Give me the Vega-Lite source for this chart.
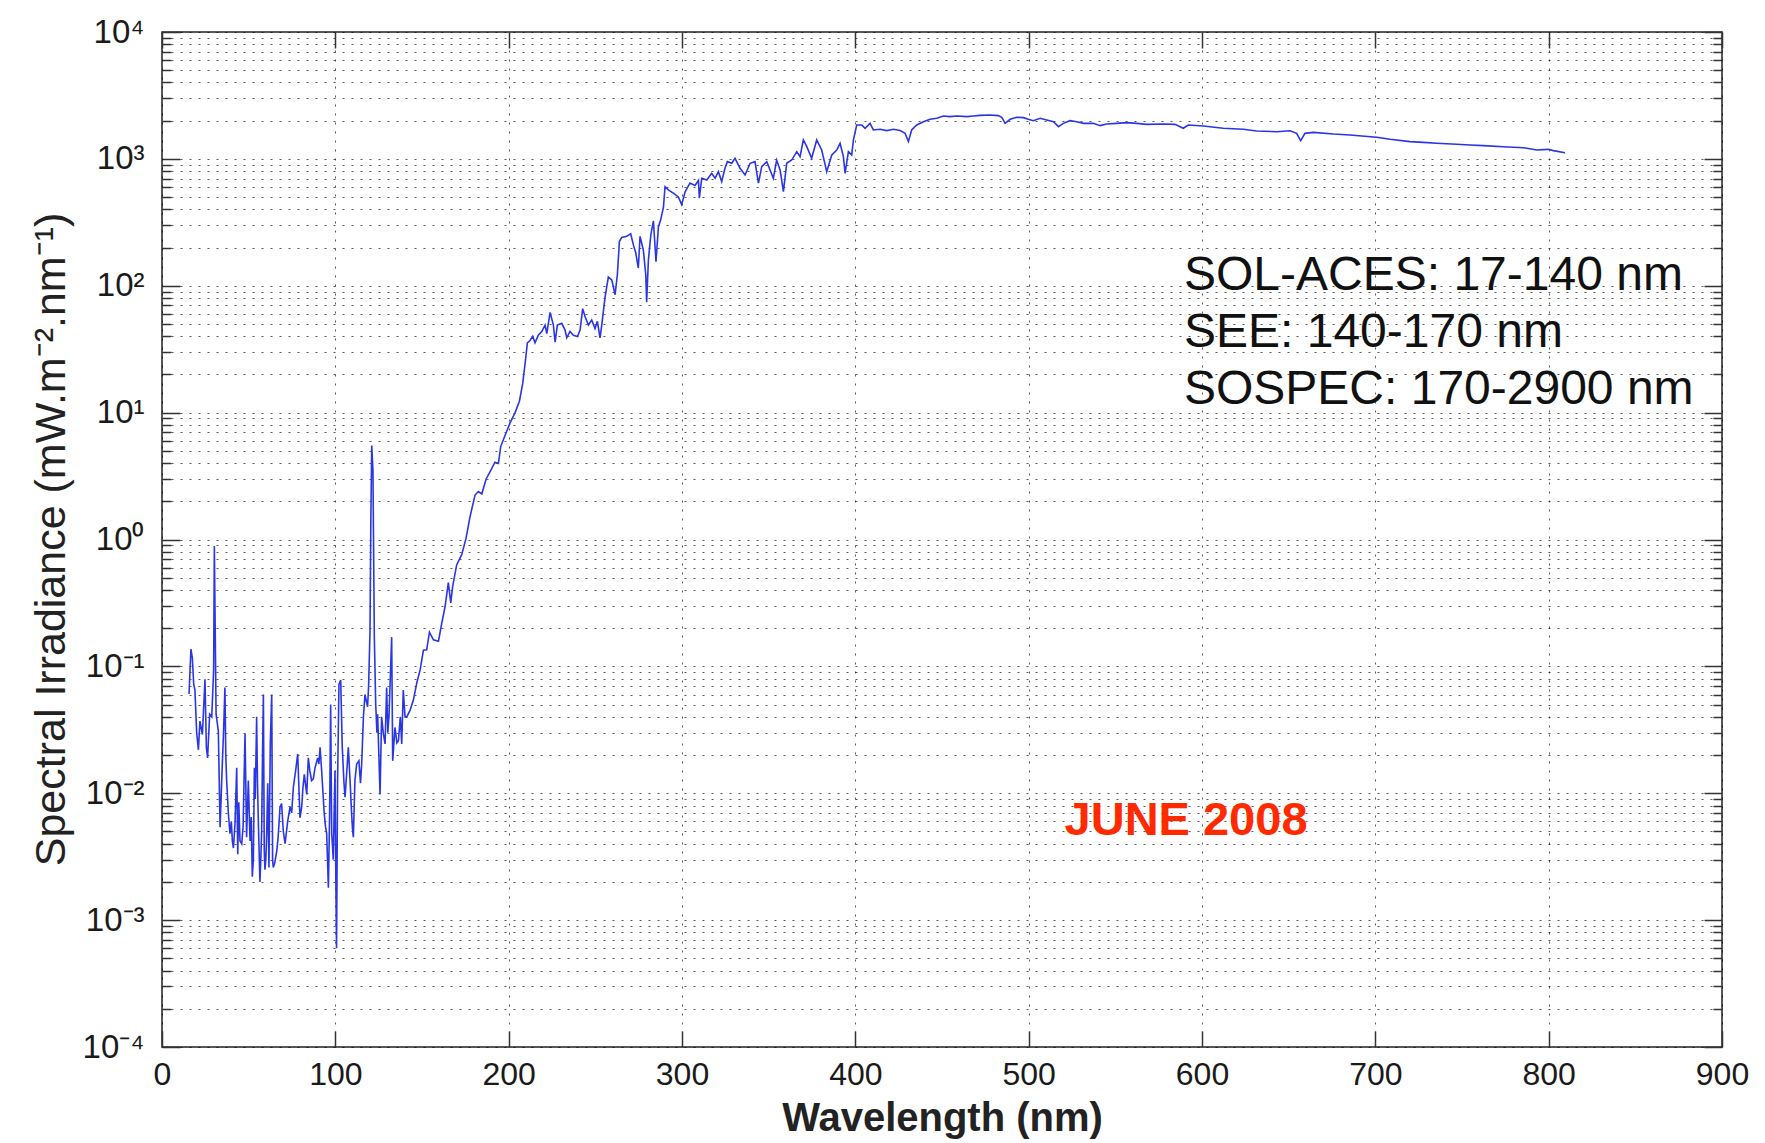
{
  "$schema": "https://vega.github.io/schema/vega-lite/v6.json",
  "width": 1560,
  "height": 1015,
  "autosize": {"type": "none"},
  "padding": {"left": 162, "top": 32, "right": 43, "bottom": 96},
  "background": "white",
  "config": {
    "font": "Liberation Sans",
    "view": {"stroke": "#222", "strokeWidth": 1.5}
  },
  "datasets": {
    "spectrum": [
      {"nm":15.6,"irr":0.0605},{"nm":16.7,"irr":0.137},{"nm":17.5,"irr":0.117},{"nm":18.3,"irr":0.072},{"nm":19.0,"irr":0.065},
      {"nm":20.0,"irr":0.030},{"nm":21.0,"irr":0.022},{"nm":21.9,"irr":0.037},{"nm":23.3,"irr":0.029},{"nm":24.8,"irr":0.079},
      {"nm":25.6,"irr":0.023},{"nm":26.3,"irr":0.019},{"nm":27.5,"irr":0.042},{"nm":28.7,"irr":0.040},{"nm":29.8,"irr":0.094},
      {"nm":30.2,"irr":0.89},{"nm":30.6,"irr":0.26},{"nm":31.2,"irr":0.042},{"nm":32.5,"irr":0.031},{"nm":33.5,"irr":0.0054},
      {"nm":34.8,"irr":0.017},{"nm":35.5,"irr":0.030},{"nm":36.3,"irr":0.068},{"nm":36.8,"irr":0.020},{"nm":37.3,"irr":0.0126},
      {"nm":38.3,"irr":0.0069},{"nm":39.2,"irr":0.0048},{"nm":40.0,"irr":0.0060},{"nm":40.6,"irr":0.0042},{"nm":41.2,"irr":0.0037},
      {"nm":42.1,"irr":0.0057},{"nm":43.1,"irr":0.0159},{"nm":43.7,"irr":0.0033},{"nm":44.3,"irr":0.0085},{"nm":45.0,"irr":0.0042},
      {"nm":46.0,"irr":0.0040},{"nm":46.8,"irr":0.0055},{"nm":47.3,"irr":0.012},{"nm":47.9,"irr":0.0295},{"nm":48.8,"irr":0.0045},
      {"nm":49.8,"irr":0.0126},{"nm":50.8,"irr":0.0042},{"nm":51.5,"irr":0.0065},{"nm":52.1,"irr":0.0022},{"nm":52.7,"irr":0.0030},
      {"nm":53.3,"irr":0.0159},{"nm":53.8,"irr":0.0090},{"nm":54.6,"irr":0.040},{"nm":55.1,"irr":0.012},{"nm":55.6,"irr":0.0058},
      {"nm":56.5,"irr":0.0020},{"nm":57.0,"irr":0.0030},{"nm":57.5,"irr":0.0051},{"nm":58.0,"irr":0.020},{"nm":58.5,"irr":0.060},
      {"nm":59.0,"irr":0.0035},{"nm":59.4,"irr":0.0025},{"nm":59.9,"irr":0.0030},{"nm":60.4,"irr":0.0048},{"nm":61.0,"irr":0.012},
      {"nm":61.7,"irr":0.0026},{"nm":62.5,"irr":0.025},{"nm":63.3,"irr":0.060},{"nm":63.8,"irr":0.0030},{"nm":64.2,"irr":0.0026},
      {"nm":65.0,"irr":0.0028},{"nm":66.2,"irr":0.0035},{"nm":67.0,"irr":0.0045},{"nm":68.1,"irr":0.0078},{"nm":69.0,"irr":0.0083},
      {"nm":70.0,"irr":0.0050},{"nm":71.0,"irr":0.0040},{"nm":72.5,"irr":0.0060},{"nm":73.9,"irr":0.0078},{"nm":74.8,"irr":0.0070},
      {"nm":75.8,"irr":0.0112},{"nm":77.1,"irr":0.0151},{"nm":78.3,"irr":0.0204},{"nm":79.6,"irr":0.0064},{"nm":80.6,"irr":0.0078},
      {"nm":81.3,"irr":0.011},{"nm":82.1,"irr":0.0141},{"nm":83.5,"irr":0.0098},{"nm":84.4,"irr":0.019},{"nm":85.3,"irr":0.015},
      {"nm":86.3,"irr":0.0126},{"nm":87.3,"irr":0.013},{"nm":88.3,"irr":0.0159},{"nm":89.8,"irr":0.019},{"nm":90.5,"irr":0.017},
      {"nm":91.2,"irr":0.023},{"nm":92.1,"irr":0.0151},{"nm":93.6,"irr":0.0069},{"nm":94.3,"irr":0.0055},{"nm":95.0,"irr":0.0048},
      {"nm":96.0,"irr":0.0018},{"nm":96.7,"irr":0.0069},{"nm":97.3,"irr":0.050},{"nm":97.9,"irr":0.0048},{"nm":98.3,"irr":0.0040},
      {"nm":98.8,"irr":0.0030},{"nm":99.8,"irr":0.0151},{"nm":100.3,"irr":0.0020},{"nm":100.7,"irr":0.0006},{"nm":101.3,"irr":0.0126},
      {"nm":102.1,"irr":0.072},{"nm":103.1,"irr":0.078},{"nm":104.0,"irr":0.023},{"nm":105.0,"irr":0.012},{"nm":105.6,"irr":0.0093},
      {"nm":106.5,"irr":0.0141},{"nm":107.5,"irr":0.023},{"nm":108.5,"irr":0.0126},{"nm":109.4,"irr":0.0069},{"nm":110.0,"irr":0.0050},
      {"nm":110.4,"irr":0.0045},{"nm":111.3,"irr":0.0126},{"nm":112.3,"irr":0.017},{"nm":113.6,"irr":0.018},{"nm":114.5,"irr":0.012},
      {"nm":115.2,"irr":0.017},{"nm":116.2,"irr":0.040},{"nm":117.1,"irr":0.060},{"nm":118.6,"irr":0.048},{"nm":119.2,"irr":0.070},
      {"nm":120.0,"irr":0.19},{"nm":120.5,"irr":1.5},{"nm":121.0,"irr":5.5},{"nm":121.7,"irr":3.5},{"nm":122.5,"irr":0.17},
      {"nm":123.3,"irr":0.050},{"nm":124.0,"irr":0.030},{"nm":124.4,"irr":0.042},{"nm":125.8,"irr":0.0098},{"nm":126.7,"irr":0.040},
      {"nm":127.7,"irr":0.0295},{"nm":128.7,"irr":0.0245},{"nm":129.6,"irr":0.068},{"nm":130.3,"irr":0.030},{"nm":131.0,"irr":0.042},
      {"nm":132.5,"irr":0.17},{"nm":133.1,"irr":0.018},{"nm":134.4,"irr":0.033},{"nm":135.5,"irr":0.025},{"nm":136.4,"irr":0.026},
      {"nm":137.5,"irr":0.040},{"nm":138.3,"irr":0.0245},{"nm":139.2,"irr":0.065},{"nm":140.2,"irr":0.040},{"nm":141.2,"irr":0.040},
      {"nm":143.1,"irr":0.045},{"nm":145.0,"irr":0.054},{"nm":147.0,"irr":0.074},
      {"nm":149.0,"irr":0.095},{"nm":150.8,"irr":0.134},{"nm":152.7,"irr":0.135},{"nm":154.3,"irr":0.186},{"nm":156.6,"irr":0.162},
      {"nm":159.5,"irr":0.158},{"nm":161.4,"irr":0.219},{"nm":163.3,"irr":0.295},{"nm":165.2,"irr":0.457},{"nm":166.6,"irr":0.316},
      {"nm":167.7,"irr":0.427},{"nm":170.0,"irr":0.63},{"nm":172.9,"irr":0.76},{"nm":175.4,"irr":1.02},{"nm":177.7,"irr":1.51},
      {"nm":180.6,"irr":2.24},{"nm":182.5,"irr":2.39},{"nm":184.5,"irr":2.29},{"nm":187.0,"irr":3.0},{"nm":189.3,"irr":3.43},
      {"nm":192.1,"irr":4.07},{"nm":194.1,"irr":3.98},{"nm":195.4,"irr":5.4},{"nm":197.9,"irr":6.6},{"nm":200.8,"irr":8.3},
      {"nm":203.7,"irr":10},{"nm":206.2,"irr":12.3},{"nm":208.1,"irr":17},{"nm":209.5,"irr":24.5},{"nm":210.8,"irr":35.5},
      {"nm":212.3,"irr":37},{"nm":213.9,"irr":40},{"nm":215.2,"irr":35.5},{"nm":217.1,"irr":40.7},{"nm":219.1,"irr":43.6},
      {"nm":221.0,"irr":49},{"nm":222.0,"irr":42},{"nm":223.9,"irr":61.7},{"nm":225.8,"irr":49},{"nm":226.8,"irr":36},
      {"nm":228.1,"irr":49},{"nm":230.6,"irr":50.6},{"nm":232.5,"irr":44.9},{"nm":233.5,"irr":38.9},{"nm":235.4,"irr":43.6},
      {"nm":237.3,"irr":40.7},{"nm":239.7,"irr":39.8},{"nm":241.2,"irr":44.7},{"nm":242.7,"irr":66},{"nm":244.1,"irr":57},
      {"nm":246.0,"irr":49},{"nm":247.9,"irr":53.7},{"nm":249.8,"irr":46},{"nm":251.2,"irr":52.5},{"nm":252.7,"irr":38.9},
      {"nm":253.7,"irr":49},{"nm":255.6,"irr":81},{"nm":257.5,"irr":117},{"nm":259.5,"irr":111},{"nm":261.4,"irr":85},
      {"nm":262.7,"irr":122},{"nm":263.9,"irr":224},{"nm":265.2,"irr":240},{"nm":268.1,"irr":245},{"nm":270.4,"irr":257},
      {"nm":272.0,"irr":209},{"nm":273.3,"irr":182},{"nm":274.8,"irr":138},{"nm":275.8,"irr":245},{"nm":277.7,"irr":191},
      {"nm":279.1,"irr":122},{"nm":279.6,"irr":74},{"nm":280.6,"irr":158},{"nm":282.0,"irr":251},{"nm":283.5,"irr":324},
      {"nm":285.0,"irr":155},{"nm":286.4,"irr":292},{"nm":287.7,"irr":331},{"nm":289.3,"irr":417},{"nm":290.2,"irr":603},
      {"nm":292.1,"irr":569},{"nm":295.0,"irr":537},{"nm":297.9,"irr":501},{"nm":299.8,"irr":436},{"nm":301.8,"irr":550},
      {"nm":304.6,"irr":646},{"nm":307.5,"irr":617},{"nm":309.5,"irr":676},{"nm":310.0,"irr":490},{"nm":311.4,"irr":703},
      {"nm":314.3,"irr":682},{"nm":317.1,"irr":769},{"nm":319.1,"irr":703},{"nm":321.0,"irr":793},{"nm":322.9,"irr":662},
      {"nm":324.8,"irr":843},{"nm":326.2,"irr":951},{"nm":328.7,"irr":923},{"nm":330.6,"irr":1011},{"nm":333.5,"irr":843},
      {"nm":336.4,"irr":747},{"nm":339.3,"irr":923},{"nm":342.1,"irr":951},{"nm":344.1,"irr":643},{"nm":346.0,"irr":869},
      {"nm":348.9,"irr":951},{"nm":350.8,"irr":818},{"nm":352.7,"irr":703},{"nm":354.6,"irr":979},{"nm":356.6,"irr":818},
      {"nm":358.5,"irr":552},{"nm":360.4,"irr":923},{"nm":363.3,"irr":979},{"nm":366.2,"irr":1140},{"nm":368.1,"irr":1042},
      {"nm":370.0,"irr":1410},{"nm":372.0,"irr":1247},{"nm":374.8,"irr":1011},{"nm":377.7,"irr":1410},{"nm":380.6,"irr":1175},
      {"nm":383.5,"irr":793},{"nm":386.4,"irr":1074},{"nm":389.3,"irr":1175},{"nm":391.2,"irr":1327},{"nm":393.1,"irr":1042},
      {"nm":394.1,"irr":769},{"nm":396.0,"irr":1140},{"nm":397.9,"irr":1074},{"nm":398.9,"irr":1410},{"nm":400.8,"irr":1849},
      {"nm":403.7,"irr":1849},{"nm":405.6,"irr":1742},{"nm":408.5,"irr":1905},{"nm":410.4,"irr":1690},{"nm":414.3,"irr":1710},
      {"nm":418.1,"irr":1671},{"nm":422.0,"irr":1710},{"nm":425.8,"irr":1671},{"nm":428.7,"irr":1592},{"nm":430.6,"irr":1368},
      {"nm":432.5,"irr":1690},{"nm":435.4,"irr":1849},{"nm":439.3,"irr":1963},{"nm":443.1,"irr":2050},{"nm":447.0,"irr":2089},
      {"nm":450.8,"irr":2178},{"nm":454.6,"irr":2153},{"nm":458.5,"irr":2178},{"nm":464.3,"irr":2153},{"nm":468.1,"irr":2178},
      {"nm":472.0,"irr":2203},{"nm":477.7,"irr":2218},{"nm":482.5,"irr":2193},{"nm":484.5,"irr":2128},{"nm":486.4,"irr":1905},
      {"nm":489.3,"irr":2050},{"nm":493.1,"irr":2128},{"nm":497.0,"irr":2113},{"nm":499.8,"irr":2050},{"nm":502.7,"irr":2000},
      {"nm":506.6,"irr":2089},{"nm":510.4,"irr":2028},{"nm":514.3,"irr":1963},{"nm":517.2,"irr":1795},{"nm":520.0,"irr":1905},
      {"nm":523.9,"irr":2000},{"nm":527.7,"irr":1963},{"nm":531.6,"irr":1905},{"nm":537.3,"irr":1905},{"nm":541.2,"irr":1828},
      {"nm":545.0,"irr":1884},{"nm":550.8,"irr":1905},{"nm":556.6,"irr":1932},{"nm":562.3,"irr":1905},{"nm":568.1,"irr":1871},
      {"nm":577.7,"irr":1884},{"nm":584.4,"irr":1871},{"nm":589.2,"irr":1742},{"nm":592.1,"irr":1849},{"nm":600.8,"irr":1816},
      {"nm":612.3,"irr":1742},{"nm":623.8,"irr":1710},{"nm":631.5,"irr":1660},{"nm":643.1,"irr":1637},{"nm":650.8,"irr":1667},
      {"nm":654.6,"irr":1589},{"nm":656.9,"irr":1393},{"nm":659.4,"irr":1589},{"nm":664.2,"irr":1618},{"nm":675.8,"irr":1570},
      {"nm":685.4,"irr":1542},{"nm":700.8,"irr":1479},{"nm":708.5,"irr":1426},{"nm":720.0,"irr":1368},{"nm":727.7,"irr":1349},
      {"nm":735.4,"irr":1327},{"nm":746.9,"irr":1303},{"nm":754.6,"irr":1286},{"nm":762.3,"irr":1271},{"nm":773.8,"irr":1247},
      {"nm":785.4,"irr":1225},{"nm":793.1,"irr":1175},{"nm":799.8,"irr":1189},{"nm":802.7,"irr":1161},{"nm":809.4,"irr":1119}
    ]
  },
  "resolve": {"axis": {"x": "independent", "y": "independent"}},
  "layer": [
    {
      "data": {"name": "spectrum"},
      "mark": {"type": "line", "color": "#2a36e4", "strokeWidth": 1.6, "interpolate": "linear"},
      "encoding": {
        "x": {
          "field": "nm", "type": "quantitative",
          "scale": {"domain": [0, 900], "nice": false, "zero": false},
          "axis": {
            "orient": "bottom",
            "title": "Wavelength (nm)",
            "titleFont": "Liberation Sans", "titleFontSize": 40, "titleFontWeight": "bold", "titleColor": "#222",
            "titleX": 780, "titleY": 71, "titleAlign": "center", "titleBaseline": "middle",
            "values": [0, 100, 200, 300, 400, 500, 600, 700, 800, 900],
            "format": "d",
            "labelFont": "Liberation Sans", "labelFontSize": 32, "labelColor": "#1a1a1a",
            "labelPadding": 28, "labelFlush": false, "labelOverlap": false,
            "domain": false,
            "tickSize": -16, "tickWidth": 1.5, "tickColor": "#333",
            "grid": true, "gridDash": [2, 7], "gridColor": "#000", "gridOpacity": 0.65, "gridWidth": 1
          }
        },
        "y": {
          "field": "irr", "type": "quantitative",
          "scale": {"type": "log", "domain": [0.0001, 10000], "nice": false},
          "axis": {
            "orient": "left",
            "title": "Spectral Irradiance (mW.m⁻².nm⁻¹)",
            "titleFont": "Liberation Sans", "titleFontSize": 43, "titleFontWeight": "normal", "titleColor": "#222",
            "titleX": -111, "titleY": 507, "titleAngle": 270, "titleAlign": "center", "titleBaseline": "middle",
            "values": [0.0001,0.0002,0.0003,0.0004,0.0005,0.0006,0.0007,0.0008,0.0009,
                       0.001,0.002,0.003,0.004,0.005,0.006,0.007,0.008,0.009,
                       0.01,0.02,0.03,0.04,0.05,0.06,0.07,0.08,0.09,
                       0.1,0.2,0.3,0.4,0.5,0.6,0.7,0.8,0.9,
                       1,2,3,4,5,6,7,8,9,
                       10,20,30,40,50,60,70,80,90,
                       100,200,300,400,500,600,700,800,900,
                       1000,2000,3000,4000,5000,6000,7000,8000,9000,10000],
            "labelExpr": "datum.value == 10000 ? '10⁴' : datum.value == 1000 ? '10³' : datum.value == 100 ? '10²' : datum.value == 10 ? '10¹' : datum.value == 1 ? '10⁰' : datum.value == 0.1 ? '10⁻¹' : datum.value == 0.01 ? '10⁻²' : datum.value == 0.001 ? '10⁻³' : datum.value == 0.0001 ? '10⁻⁴' : ''",
            "labelFont": "Liberation Sans", "labelFontSize": 33, "labelColor": "#1a1a1a",
            "labelPadding": 36, "labelFlush": false, "labelOverlap": false, "labelBaseline": "middle",
            "domain": false,
            "tickSize": {"condition": {"test": "abs(log(datum.value)/LN10 - round(log(datum.value)/LN10)) < 0.000001", "value": -18}, "value": -9},
            "tickWidth": 1.5, "tickColor": "#333",
            "grid": true, "gridDash": [2, 7], "gridColor": "#000", "gridOpacity": 0.65, "gridWidth": 1
          }
        }
      }
    },
    {
      "data": {"values": [{}]},
      "mark": {"type": "text", "align": "left", "baseline": "middle", "font": "Liberation Sans", "fontSize": 48, "lineHeight": 57, "color": "#111"},
      "encoding": {
        "x": {"datum": 589.6, "type": "quantitative", "axis": null},
        "y": {"datum": 119, "type": "quantitative", "axis": null},
        "text": {"value": ["SOL-ACES: 17-140 nm", "SEE: 140-170 nm", "SOSPEC: 170-2900 nm"]}
      }
    },
    {
      "data": {"values": [{}]},
      "mark": {"type": "text", "align": "center", "baseline": "middle", "font": "Liberation Sans", "fontSize": 47, "fontWeight": "bold", "color": "#ff2a00"},
      "encoding": {
        "x": {
          "datum": 590.8, "type": "quantitative",
          "axis": {
            "orient": "top", "labels": false, "title": null, "grid": false, "domain": false,
            "values": [0, 100, 200, 300, 400, 500, 600, 700, 800, 900],
            "tickSize": -16, "tickWidth": 1.5, "tickColor": "#333"
          }
        },
        "y": {
          "datum": 0.00607, "type": "quantitative",
          "axis": {
            "orient": "right", "labels": false, "title": null, "grid": false, "domain": false,
            "values": [0.0001,0.0002,0.0003,0.0004,0.0005,0.0006,0.0007,0.0008,0.0009,
                       0.001,0.002,0.003,0.004,0.005,0.006,0.007,0.008,0.009,
                       0.01,0.02,0.03,0.04,0.05,0.06,0.07,0.08,0.09,
                       0.1,0.2,0.3,0.4,0.5,0.6,0.7,0.8,0.9,
                       1,2,3,4,5,6,7,8,9,
                       10,20,30,40,50,60,70,80,90,
                       100,200,300,400,500,600,700,800,900,
                       1000,2000,3000,4000,5000,6000,7000,8000,9000,10000],
            "tickSize": {"condition": {"test": "abs(log(datum.value)/LN10 - round(log(datum.value)/LN10)) < 0.000001", "value": -18}, "value": -9},
            "tickWidth": 1.5, "tickColor": "#333"
          }
        },
        "text": {"value": "JUNE 2008"}
      }
    }
  ]
}
